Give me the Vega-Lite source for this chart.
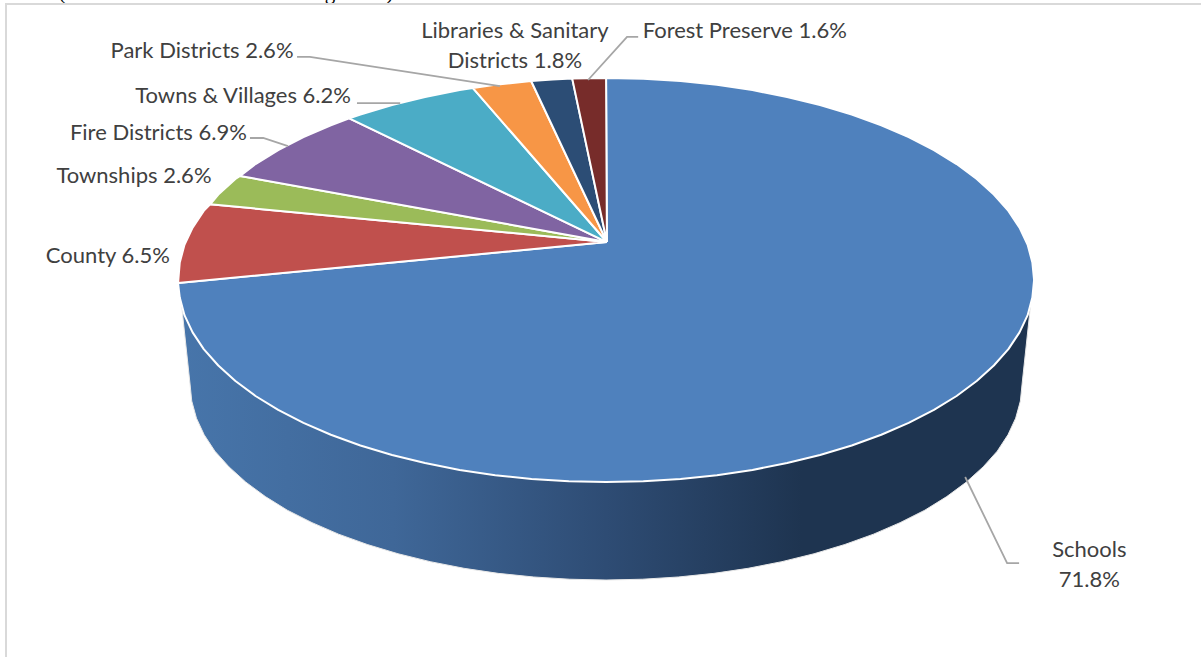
{"$schema":"https://vega.github.io/schema/vega-lite/v6.json","width":1201,"height":657,"padding":0,"autosize":{"type":"none"},"background":"white","config":{"view":{"stroke":null}},
"datasets":{
"frame":[{"x":-1.402,"y":-1.866,"k":0},{"x":-1.402,"y":1.366,"k":1},{"x":1.39,"y":1.366,"k":2}],
"cut":[{"t":"(","x":-1.271,"y":1.391},{"t":"g","x":-0.645,"y":1.391},{"t":")","x":-0.505,"y":1.391}],
"wall":[{"k":0,"x":-0.993,"y":-0.1},{"k":1,"x":-0.972,"y":-0.515},{"k":2,"x":-0.968,"y":-0.599},{"k":3,"x":-0.957,"y":-0.684},{"k":4,"x":-0.939,"y":-0.766},{"k":5,"x":-0.914,"y":-0.847},{"k":6,"x":-0.881,"y":-0.925},{"k":7,"x":-0.842,"y":-1.0},{"k":8,"x":-0.796,"y":-1.072},{"k":9,"x":-0.745,"y":-1.139},{"k":10,"x":-0.687,"y":-1.201},{"k":11,"x":-0.625,"y":-1.258},{"k":12,"x":-0.558,"y":-1.309},{"k":13,"x":-0.486,"y":-1.355},{"k":14,"x":-0.411,"y":-1.394},{"k":15,"x":-0.332,"y":-1.427},{"k":16,"x":-0.252,"y":-1.452},{"k":17,"x":-0.169,"y":-1.47},{"k":18,"x":-0.085,"y":-1.481},{"k":19,"x":0,"y":-1.485},{"k":20,"x":0.085,"y":-1.481},{"k":21,"x":0.169,"y":-1.47},{"k":22,"x":0.252,"y":-1.452},{"k":23,"x":0.332,"y":-1.427},{"k":24,"x":0.411,"y":-1.394},{"k":25,"x":0.486,"y":-1.355},{"k":26,"x":0.558,"y":-1.309},{"k":27,"x":0.625,"y":-1.258},{"k":28,"x":0.687,"y":-1.201},{"k":29,"x":0.745,"y":-1.139},{"k":30,"x":0.796,"y":-1.072},{"k":31,"x":0.842,"y":-1.0},{"k":32,"x":0.881,"y":-0.925},{"k":33,"x":0.914,"y":-0.847},{"k":34,"x":0.939,"y":-0.766},{"k":35,"x":0.957,"y":-0.684},{"k":36,"x":0.968,"y":-0.599},{"k":37,"x":0.972,"y":-0.515},{"k":38,"x":0.993,"y":-0.1},{"k":39,"x":-0.993,"y":-0.1}],
"top":[
{"s":"Schools","k":0,"x":0.002,"y":0.188},{"s":"Schools","k":1,"x":0,"y":1},{"s":"Schools","k":2,"x":0.087,"y":0.996},{"s":"Schools","k":3,"x":0.174,"y":0.985},{"s":"Schools","k":4,"x":0.259,"y":0.966},{"s":"Schools","k":5,"x":0.342,"y":0.94},{"s":"Schools","k":6,"x":0.423,"y":0.906},{"s":"Schools","k":7,"x":0.5,"y":0.866},{"s":"Schools","k":8,"x":0.574,"y":0.819},{"s":"Schools","k":9,"x":0.643,"y":0.766},{"s":"Schools","k":10,"x":0.707,"y":0.707},{"s":"Schools","k":11,"x":0.766,"y":0.643},{"s":"Schools","k":12,"x":0.819,"y":0.574},{"s":"Schools","k":13,"x":0.866,"y":0.5},{"s":"Schools","k":14,"x":0.906,"y":0.423},{"s":"Schools","k":15,"x":0.94,"y":0.342},{"s":"Schools","k":16,"x":0.966,"y":0.259},{"s":"Schools","k":17,"x":0.985,"y":0.174},{"s":"Schools","k":18,"x":0.996,"y":0.087},{"s":"Schools","k":19,"x":1,"y":0},{"s":"Schools","k":20,"x":0.996,"y":-0.087},{"s":"Schools","k":21,"x":0.985,"y":-0.174},{"s":"Schools","k":22,"x":0.966,"y":-0.259},{"s":"Schools","k":23,"x":0.94,"y":-0.342},{"s":"Schools","k":24,"x":0.906,"y":-0.423},{"s":"Schools","k":25,"x":0.866,"y":-0.5},{"s":"Schools","k":26,"x":0.819,"y":-0.574},{"s":"Schools","k":27,"x":0.766,"y":-0.643},{"s":"Schools","k":28,"x":0.707,"y":-0.707},{"s":"Schools","k":29,"x":0.643,"y":-0.766},{"s":"Schools","k":30,"x":0.574,"y":-0.819},{"s":"Schools","k":31,"x":0.5,"y":-0.866},{"s":"Schools","k":32,"x":0.423,"y":-0.906},{"s":"Schools","k":33,"x":0.342,"y":-0.94},{"s":"Schools","k":34,"x":0.259,"y":-0.966},{"s":"Schools","k":35,"x":0.174,"y":-0.985},{"s":"Schools","k":36,"x":0.087,"y":-0.996},{"s":"Schools","k":37,"x":0,"y":-1},{"s":"Schools","k":38,"x":-0.087,"y":-0.996},{"s":"Schools","k":39,"x":-0.174,"y":-0.985},{"s":"Schools","k":40,"x":-0.259,"y":-0.966},{"s":"Schools","k":41,"x":-0.342,"y":-0.94},{"s":"Schools","k":42,"x":-0.423,"y":-0.906},{"s":"Schools","k":43,"x":-0.5,"y":-0.866},{"s":"Schools","k":44,"x":-0.574,"y":-0.819},{"s":"Schools","k":45,"x":-0.643,"y":-0.766},{"s":"Schools","k":46,"x":-0.707,"y":-0.707},{"s":"Schools","k":47,"x":-0.766,"y":-0.643},{"s":"Schools","k":48,"x":-0.819,"y":-0.574},{"s":"Schools","k":49,"x":-0.866,"y":-0.5},{"s":"Schools","k":50,"x":-0.906,"y":-0.423},{"s":"Schools","k":51,"x":-0.94,"y":-0.342},{"s":"Schools","k":52,"x":-0.966,"y":-0.259},{"s":"Schools","k":53,"x":-0.985,"y":-0.174},{"s":"Schools","k":54,"x":-0.996,"y":-0.087},{"s":"Schools","k":55,"x":-1,"y":-0.015},{"s":"Schools","k":56,"x":0.002,"y":0.188},
{"s":"County","k":0,"x":0.002,"y":0.188},{"s":"County","k":1,"x":-1,"y":-0.015},{"s":"County","k":2,"x":-0.996,"y":0.087},{"s":"County","k":3,"x":-0.985,"y":0.174},{"s":"County","k":4,"x":-0.966,"y":0.259},{"s":"County","k":5,"x":-0.94,"y":0.342},{"s":"County","k":6,"x":-0.925,"y":0.375},{"s":"County","k":7,"x":0.002,"y":0.188},
{"s":"Townships","k":0,"x":0.002,"y":0.188},{"s":"Townships","k":1,"x":-0.925,"y":0.375},{"s":"Townships","k":2,"x":-0.906,"y":0.423},{"s":"Townships","k":3,"x":-0.866,"y":0.5},{"s":"Townships","k":4,"x":-0.855,"y":0.515},{"s":"Townships","k":5,"x":0.002,"y":0.188},
{"s":"Fire Districts","k":0,"x":0.002,"y":0.188},{"s":"Fire Districts","k":1,"x":-0.855,"y":0.515},{"s":"Fire Districts","k":2,"x":-0.819,"y":0.574},{"s":"Fire Districts","k":3,"x":-0.766,"y":0.643},{"s":"Fire Districts","k":4,"x":-0.707,"y":0.707},{"s":"Fire Districts","k":5,"x":-0.643,"y":0.766},{"s":"Fire Districts","k":6,"x":-0.6,"y":0.8},{"s":"Fire Districts","k":7,"x":0.002,"y":0.188},
{"s":"Towns & Villages","k":0,"x":0.002,"y":0.188},{"s":"Towns & Villages","k":1,"x":-0.6,"y":0.8},{"s":"Towns & Villages","k":2,"x":-0.574,"y":0.819},{"s":"Towns & Villages","k":3,"x":-0.5,"y":0.866},{"s":"Towns & Villages","k":4,"x":-0.423,"y":0.906},{"s":"Towns & Villages","k":5,"x":-0.342,"y":0.94},{"s":"Towns & Villages","k":6,"x":-0.311,"y":0.95},{"s":"Towns & Villages","k":7,"x":0.002,"y":0.188},
{"s":"Park Districts","k":0,"x":0.002,"y":0.188},{"s":"Park Districts","k":1,"x":-0.311,"y":0.95},{"s":"Park Districts","k":2,"x":-0.259,"y":0.966},{"s":"Park Districts","k":3,"x":-0.175,"y":0.985},{"s":"Park Districts","k":4,"x":0.002,"y":0.188},
{"s":"Libraries & Sanitary Districts","k":0,"x":0.002,"y":0.188},{"s":"Libraries & Sanitary Districts","k":1,"x":-0.175,"y":0.985},{"s":"Libraries & Sanitary Districts","k":2,"x":-0.125,"y":0.992},{"s":"Libraries & Sanitary Districts","k":3,"x":-0.079,"y":0.997},{"s":"Libraries & Sanitary Districts","k":4,"x":0.002,"y":0.188},
{"s":"Forest Preserve","k":0,"x":0.002,"y":0.188},{"s":"Forest Preserve","k":1,"x":-0.079,"y":0.997},{"s":"Forest Preserve","k":2,"x":-0.04,"y":0.999},{"s":"Forest Preserve","k":3,"x":0,"y":1},{"s":"Forest Preserve","k":4,"x":0.002,"y":0.188}],
"leaders":[
{"s":"Park","k":0,"x":-0.722,"y":1.104},{"s":"Park","k":1,"x":-0.692,"y":1.104},{"s":"Park","k":2,"x":-0.248,"y":0.96},
{"s":"Towns","k":0,"x":-0.582,"y":0.876},{"s":"Towns","k":1,"x":-0.481,"y":0.876},
{"s":"Fire","k":0,"x":-0.832,"y":0.703},{"s":"Fire","k":1,"x":-0.801,"y":0.703},{"s":"Fire","k":2,"x":-0.743,"y":0.663},
{"s":"Forest","k":0,"x":0.075,"y":1.203},{"s":"Forest","k":1,"x":0.049,"y":1.203},{"s":"Forest","k":2,"x":-0.042,"y":0.99},
{"s":"Schools","k":0,"x":0.839,"y":-0.975},{"s":"Schools","k":1,"x":0.937,"y":-1.401},{"s":"Schools","k":2,"x":0.965,"y":-1.401}],
"labels":[
{"t":"Park Districts 2.6%","x":-0.944,"y":1.134},
{"t":"Towns & Villages 6.2%","x":-0.848,"y":0.911},
{"t":"Fire Districts 6.9%","x":-1.046,"y":0.728},
{"t":"Townships 2.6%","x":-1.103,"y":0.515},
{"t":"County 6.5%","x":-1.164,"y":0.119},
{"t":"Libraries & Sanitary\nDistricts 1.8%","x":-0.213,"y":1.233},
{"t":"Forest Preserve 1.6%","x":0.324,"y":1.233},
{"t":"Schools\n71.8%","x":1.129,"y":-1.337}]
},
"encoding":{
"x":{"field":"x","type":"quantitative","axis":null,"scale":{"domain":[-1.416,1.39],"nice":false,"zero":false}},
"y":{"field":"y","type":"quantitative","axis":null,"scale":{"domain":[-1.866,1.386],"nice":false,"zero":false}}
},
"layer":[
{"data":{"name":"cut"},"mark":{"type":"text","font":"Liberation Serif","fontSize":21,"color":"black","align":"center","baseline":"alphabetic"},"encoding":{"text":{"field":"t"}}},
{"data":{"name":"frame"},"mark":{"type":"line","stroke":"#d9d9d9","strokeWidth":2},"encoding":{"order":{"field":"k"}}},
{"data":{"name":"wall"},"mark":{"type":"line","stroke":"#e8e8e8","strokeWidth":1,"fill":{"gradient":"linear","x1":0,"y1":0,"x2":1,"y2":0,"stops":[{"offset":0,"color":"#4775aa"},{"offset":0.25,"color":"#3f6798"},{"offset":0.5,"color":"#2e4c74"},{"offset":0.73,"color":"#1e3450"},{"offset":1,"color":"#1e3450"}]}},"encoding":{"order":{"field":"k"}}},
{"data":{"name":"top"},"mark":{"type":"line","stroke":"white","strokeWidth":2,"strokeJoin":"round"},"encoding":{"order":{"field":"k"},"detail":{"field":"s"},"fill":{"field":"s","type":"nominal","legend":null,"sort":null,"scale":{"domain":["Schools","County","Townships","Fire Districts","Towns & Villages","Park Districts","Libraries & Sanitary Districts","Forest Preserve"],"range":["#4f81bd","#c0504d","#9bbb59","#8064a2","#4bacc6","#f79646","#2c4d75","#772c2a"]}}}},
{"data":{"name":"leaders"},"mark":{"type":"line","stroke":"#a6a6a6","strokeWidth":1.8},"encoding":{"order":{"field":"k"},"detail":{"field":"s"}}},
{"data":{"name":"labels"},"mark":{"type":"text","font":"Lato","fontSize":22,"color":"#404040","align":"center","baseline":"middle","lineBreak":"\n","lineHeight":30},"encoding":{"text":{"field":"t"}}}
]}
